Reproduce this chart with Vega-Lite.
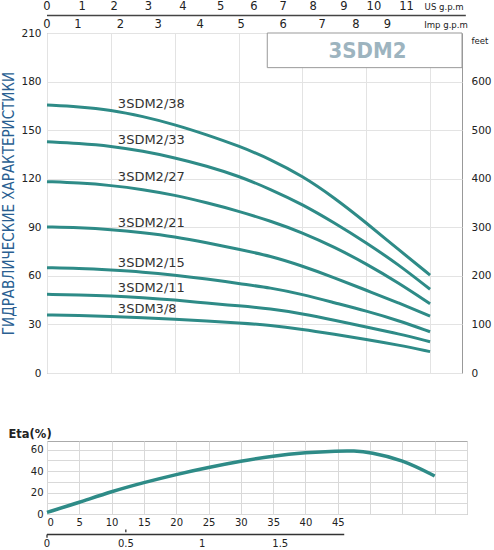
{
  "$schema": "https://vega.github.io/schema/vega-lite/v6.json",
  "padding": {"left": 1, "top": 0, "right": 0, "bottom": 0},
  "background": "white",
  "spacing": 48,
  "config": {
    "font": "DejaVu Sans",
    "view": {"stroke": "#999"},
    "axis": {"labelFont": "DejaVu Sans", "labelColor": "#222", "gridColor": "#e3e3e3", "titleFont": "DejaVu Sans", "labelOverlap": false}
  },
  "datasets": {
    "hq": [
      {"model": "3SDM2/38", "q": 0, "h": 165.5}, {"model": "3SDM2/38", "q": 5, "h": 164.5}, {"model": "3SDM2/38", "q": 10, "h": 162.5}, {"model": "3SDM2/38", "q": 15, "h": 158.5}, {"model": "3SDM2/38", "q": 20, "h": 153.5}, {"model": "3SDM2/38", "q": 25, "h": 147.2}, {"model": "3SDM2/38", "q": 30, "h": 140.3}, {"model": "3SDM2/38", "q": 35, "h": 132}, {"model": "3SDM2/38", "q": 40, "h": 121.7}, {"model": "3SDM2/38", "q": 45, "h": 108.3}, {"model": "3SDM2/38", "q": 50, "h": 92.8}, {"model": "3SDM2/38", "q": 55, "h": 76.4}, {"model": "3SDM2/38", "q": 60, "h": 60.5},
      {"model": "3SDM2/33", "q": 0, "h": 142.9}, {"model": "3SDM2/33", "q": 5, "h": 141.9}, {"model": "3SDM2/33", "q": 10, "h": 140.2}, {"model": "3SDM2/33", "q": 15, "h": 137.1}, {"model": "3SDM2/33", "q": 20, "h": 133}, {"model": "3SDM2/33", "q": 25, "h": 127.9}, {"model": "3SDM2/33", "q": 30, "h": 121.7}, {"model": "3SDM2/33", "q": 35, "h": 113.5}, {"model": "3SDM2/33", "q": 40, "h": 104.2}, {"model": "3SDM2/33", "q": 45, "h": 92.8}, {"model": "3SDM2/33", "q": 50, "h": 80.5}, {"model": "3SDM2/33", "q": 55, "h": 67.1}, {"model": "3SDM2/33", "q": 60, "h": 51.7},
      {"model": "3SDM2/27", "q": 0, "h": 118.2}, {"model": "3SDM2/27", "q": 5, "h": 117.4}, {"model": "3SDM2/27", "q": 10, "h": 115.9}, {"model": "3SDM2/27", "q": 15, "h": 113.4}, {"model": "3SDM2/27", "q": 20, "h": 109.9}, {"model": "3SDM2/27", "q": 25, "h": 105.2}, {"model": "3SDM2/27", "q": 30, "h": 100}, {"model": "3SDM2/27", "q": 35, "h": 93.9}, {"model": "3SDM2/27", "q": 40, "h": 86.7}, {"model": "3SDM2/27", "q": 45, "h": 77.8}, {"model": "3SDM2/27", "q": 50, "h": 67.5}, {"model": "3SDM2/27", "q": 55, "h": 55.8}, {"model": "3SDM2/27", "q": 60, "h": 42.8},
      {"model": "3SDM2/21", "q": 0, "h": 90.2}, {"model": "3SDM2/21", "q": 5, "h": 89.8}, {"model": "3SDM2/21", "q": 10, "h": 88.7}, {"model": "3SDM2/21", "q": 15, "h": 86.7}, {"model": "3SDM2/21", "q": 20, "h": 84.2}, {"model": "3SDM2/21", "q": 25, "h": 80.5}, {"model": "3SDM2/21", "q": 30, "h": 76.4}, {"model": "3SDM2/21", "q": 35, "h": 72.3}, {"model": "3SDM2/21", "q": 40, "h": 66.1}, {"model": "3SDM2/21", "q": 45, "h": 58.9}, {"model": "3SDM2/21", "q": 50, "h": 51.1}, {"model": "3SDM2/21", "q": 55, "h": 43.4}, {"model": "3SDM2/21", "q": 60, "h": 35.2},
      {"model": "3SDM2/15", "q": 0, "h": 65}, {"model": "3SDM2/15", "q": 5, "h": 64.6}, {"model": "3SDM2/15", "q": 10, "h": 63.6}, {"model": "3SDM2/15", "q": 15, "h": 62.4}, {"model": "3SDM2/15", "q": 20, "h": 60.5}, {"model": "3SDM2/15", "q": 25, "h": 58.2}, {"model": "3SDM2/15", "q": 30, "h": 55.2}, {"model": "3SDM2/15", "q": 35, "h": 52.7}, {"model": "3SDM2/15", "q": 40, "h": 48.6}, {"model": "3SDM2/15", "q": 45, "h": 43.4}, {"model": "3SDM2/15", "q": 50, "h": 38.3}, {"model": "3SDM2/15", "q": 55, "h": 32.5}, {"model": "3SDM2/15", "q": 60, "h": 25.5},
      {"model": "3SDM2/11", "q": 0, "h": 48.6}, {"model": "3SDM2/11", "q": 5, "h": 48.2}, {"model": "3SDM2/11", "q": 10, "h": 47.6}, {"model": "3SDM2/11", "q": 15, "h": 46.5}, {"model": "3SDM2/11", "q": 20, "h": 45.1}, {"model": "3SDM2/11", "q": 25, "h": 43.2}, {"model": "3SDM2/11", "q": 30, "h": 41.5}, {"model": "3SDM2/11", "q": 35, "h": 39.7}, {"model": "3SDM2/11", "q": 40, "h": 36.6}, {"model": "3SDM2/11", "q": 45, "h": 32.7}, {"model": "3SDM2/11", "q": 50, "h": 28.4}, {"model": "3SDM2/11", "q": 55, "h": 24.3}, {"model": "3SDM2/11", "q": 60, "h": 19.3},
      {"model": "3SDM3/8", "q": 0, "h": 35.8}, {"model": "3SDM3/8", "q": 5, "h": 35.6}, {"model": "3SDM3/8", "q": 10, "h": 35}, {"model": "3SDM3/8", "q": 15, "h": 34.2}, {"model": "3SDM3/8", "q": 20, "h": 33.2}, {"model": "3SDM3/8", "q": 25, "h": 32.1}, {"model": "3SDM3/8", "q": 30, "h": 30.9}, {"model": "3SDM3/8", "q": 35, "h": 29.5}, {"model": "3SDM3/8", "q": 40, "h": 27}, {"model": "3SDM3/8", "q": 45, "h": 23.9}, {"model": "3SDM3/8", "q": 50, "h": 20.8}, {"model": "3SDM3/8", "q": 55, "h": 17.3}, {"model": "3SDM3/8", "q": 60, "h": 13.2}
    ],
    "labels": [
      {"model": "3SDM2/38", "q": 11.1, "h": 166},
      {"model": "3SDM2/33", "q": 11.1, "h": 143.9},
      {"model": "3SDM2/27", "q": 11.1, "h": 121},
      {"model": "3SDM2/21", "q": 11.1, "h": 92.8},
      {"model": "3SDM2/15", "q": 11.1, "h": 68.1},
      {"model": "3SDM2/11", "q": 11.1, "h": 52.3},
      {"model": "3SDM3/8", "q": 11.1, "h": 39.3}
    ],
    "us": [
      {"q": 0, "lab": "0"}, {"q": 5.5, "lab": "1"}, {"q": 10.5, "lab": "2"}, {"q": 15.9, "lab": "3"}, {"q": 21.3, "lab": "4"}, {"q": 27.2, "lab": "5"}, {"q": 32.4, "lab": "6"}, {"q": 37, "lab": "7"}, {"q": 41.7, "lab": "8"}, {"q": 46.5, "lab": "9"}, {"q": 51.2, "lab": "10"}, {"q": 56.3, "lab": "11"}
    ],
    "imp": [
      {"q": 0, "lab": "0"}, {"q": 4.86, "lab": "1"}, {"q": 11.5, "lab": "2"}, {"q": 17.4, "lab": "3"}, {"q": 24, "lab": "4"}, {"q": 30.4, "lab": "5"}, {"q": 37, "lab": "6"}, {"q": 43.1, "lab": "7"}, {"q": 48.4, "lab": "8"}, {"q": 53.3, "lab": "9"}
    ],
    "eta": [
      {"q": 0, "e": 1.5}, {"q": 5, "e": 10.8}, {"q": 10, "e": 21}, {"q": 15, "e": 29.3}, {"q": 20, "e": 36.9}, {"q": 25, "e": 43.4}, {"q": 30, "e": 49.2}, {"q": 35, "e": 54.2}, {"q": 40, "e": 57.2}, {"q": 45, "e": 58.8}, {"q": 47.5, "e": 58.9}, {"q": 50, "e": 57.6}, {"q": 55, "e": 50.6}, {"q": 60, "e": 35.4}
    ],
    "m3h": [
      {"q": 0, "lab": "0"}, {"q": 12.2, "lab": "0.5"}, {"q": 24, "lab": "1"}, {"q": 36.1, "lab": "1.5"}
    ],
    "m3hticks": [
      {"q": 0, "a": -19.1, "b": -22.2}, {"q": 12.2, "a": -14.5, "b": -16.9}
    ]
  },
  "vconcat": [
    {
      "width": 415,
      "height": 340,
      "layer": [
        {
          "data": {"name": "hq"},
          "mark": {"type": "line", "interpolate": "basis", "strokeWidth": 3, "color": "#2e8b87"},
          "encoding": {
            "x": {"field": "q", "type": "quantitative", "scale": {"domain": [0, 65], "nice": false},
              "axis": {"values": [0, 5, 10, 15, 20, 25, 30, 35, 40, 45, 50, 55, 60, 65], "labels": false, "ticks": false, "domain": false, "grid": true, "title": null}},
            "y": {"field": "h", "type": "quantitative", "scale": {"domain": [0, 210], "nice": false},
              "axis": {"values": [0, 30, 60, 90, 120, 150, 180, 210], "grid": true, "ticks": false, "domain": false, "labelPadding": 6, "labelFontSize": 10.5, "labelOverlap": false,
                "title": "ГИДРАВЛИЧЕСКИЕ ХАРАКТЕРИСТИКИ", "titleFont": "DejaVu Sans Condensed", "titleFontSize": 15, "titleFontWeight": "normal", "titleColor": "#2a5f92", "titlePadding": 4}},
            "detail": {"field": "model"}
          }
        },
        {
          "data": {"name": "labels"},
          "mark": {"type": "text", "align": "left", "baseline": "middle", "fontSize": 13, "color": "#333"},
          "encoding": {
            "x": {"field": "q", "type": "quantitative"},
            "y": {"field": "h", "type": "quantitative",
              "axis": {"orient": "right", "values": [0, 30, 60, 90, 120, 150, 180], "labelExpr": "format(round(datum.value / 0.3), 'd')", "grid": false, "ticks": false, "domain": false, "labelPadding": 9, "labelFontSize": 10.5, "labelAlign": "left", "labelOverlap": false, "title": null}},
            "text": {"field": "model"}
          }
        },
        {
          "data": {"values": [{}]},
          "mark": {"type": "rect", "fill": "white", "stroke": "#999", "strokeWidth": 1},
          "encoding": {
            "x": {"datum": 34.5, "type": "quantitative"}, "x2": {"datum": 65},
            "y": {"datum": 210, "type": "quantitative", "axis": null}, "y2": {"datum": 188.6}
          }
        },
        {
          "data": {"values": [{}]},
          "mark": {"type": "text", "text": "3SDM2", "font": "DejaVu Sans Condensed", "fontWeight": "bold", "fontSize": 22, "color": "#9db4bf", "baseline": "middle"},
          "encoding": {
            "x": {"datum": 50.2, "type": "quantitative"},
            "y": {"datum": 199, "type": "quantitative", "axis": null}
          }
        },
        {
          "data": {"values": [{}]},
          "mark": {"type": "rule", "stroke": "#444", "strokeWidth": 1.5},
          "encoding": {
            "x": {"datum": 0, "type": "quantitative"}, "x2": {"datum": 65.6},
            "y": {"datum": 220.8, "type": "quantitative", "axis": null}
          }
        },
        {
          "data": {"name": "us"},
          "mark": {"type": "text", "fontSize": 11.5, "color": "#222", "baseline": "middle"},
          "encoding": {
            "x": {"field": "q", "type": "quantitative"},
            "y": {"datum": 226, "type": "quantitative", "axis": null},
            "text": {"field": "lab"}
          }
        },
        {
          "data": {"name": "imp"},
          "mark": {"type": "text", "fontSize": 11.5, "color": "#222", "baseline": "middle"},
          "encoding": {
            "x": {"field": "q", "type": "quantitative"},
            "y": {"datum": 215, "type": "quantitative", "axis": null},
            "text": {"field": "lab"}
          }
        },
        {
          "data": {"values": [{"t": "US g.p.m", "q": 62.2, "h": 226}, {"t": "Imp g.p.m", "q": 62.5, "h": 215}, {"t": "feet", "q": 67.8, "h": 205}]},
          "mark": {"type": "text", "fontSize": 9.5, "color": "#222", "baseline": "middle", "font": "DejaVu Sans Condensed"},
          "encoding": {
            "x": {"field": "q", "type": "quantitative"},
            "y": {"field": "h", "type": "quantitative", "axis": null},
            "text": {"field": "t"}
          }
        }
      ],
      "resolve": {"axis": {"y": "independent"}}
    },
    {
      "width": 420,
      "height": 73,
      "view": {"stroke": "#aaa"},
      "layer": [
        {
          "data": {"name": "eta"},
          "mark": {"type": "line", "interpolate": "basis", "strokeWidth": 3.5, "color": "#2e8b87"},
          "encoding": {
            "x": {"field": "q", "type": "quantitative", "scale": {"domain": [0, 65], "nice": false},
              "axis": {"values": [0, 5, 10, 15, 20, 25, 30, 35, 40, 45, 50, 55, 60, 65], "labelExpr": "datum.value > 45 ? '' : datum.label", "labelOverlap": false, "grid": true, "gridColor": "#d9d9d9", "ticks": false, "domain": false, "labelPadding": 3, "labelFontSize": 10, "title": null}},
            "y": {"field": "e", "type": "quantitative", "scale": {"domain": [0, 68], "nice": false},
              "axis": {"values": [0, 10, 20, 30, 40, 50, 60], "labelExpr": "datum.value % 20 == 0 ? datum.label : ''", "labelOverlap": false, "grid": true, "gridColor": "#d9d9d9", "ticks": false, "domain": false, "labelPadding": 4, "labelFontSize": 10,
                "title": "Eta(%)", "titleAngle": 0, "titleAlign": "left", "titleBaseline": "middle", "titleX": -39, "titleY": -7, "titleFontSize": 11.5, "titleFontWeight": "bold", "titleColor": "#222"}}
          }
        },
        {
          "data": {"values": [{}]},
          "mark": {"type": "rule", "stroke": "#333", "strokeWidth": 1.5},
          "encoding": {
            "x": {"datum": 0, "type": "quantitative", "scale": {"domain": [0, 65], "nice": false},
              "axis": {"values": [0, 5, 10, 15, 20, 25, 30, 35, 40, 45, 50, 55, 60, 65], "labelExpr": "datum.value > 45 ? '' : datum.label", "labelOverlap": false, "grid": true, "gridColor": "#d9d9d9", "ticks": false, "domain": false, "labelPadding": 3, "labelFontSize": 10, "title": null}},
            "x2": {"datum": 46},
            "y": {"datum": -19.1, "type": "quantitative", "scale": {"domain": [0, 68], "nice": false},
              "axis": {"values": [0, 10, 20, 30, 40, 50, 60], "labelExpr": "datum.value % 20 == 0 ? datum.label : ''", "labelOverlap": false, "grid": true, "gridColor": "#d9d9d9", "ticks": false, "domain": false, "labelPadding": 4, "labelFontSize": 10,
                "title": "Eta(%)", "titleAngle": 0, "titleAlign": "left", "titleBaseline": "middle", "titleX": -39, "titleY": -7, "titleFontSize": 11.5, "titleFontWeight": "bold", "titleColor": "#222"}}
          }
        },
        {
          "data": {"name": "m3hticks"},
          "mark": {"type": "rule", "stroke": "#333", "strokeWidth": 1.3},
          "encoding": {
            "x": {"field": "q", "type": "quantitative", "scale": {"domain": [0, 65], "nice": false},
              "axis": {"values": [0, 5, 10, 15, 20, 25, 30, 35, 40, 45, 50, 55, 60, 65], "labelExpr": "datum.value > 45 ? '' : datum.label", "labelOverlap": false, "grid": true, "gridColor": "#d9d9d9", "ticks": false, "domain": false, "labelPadding": 3, "labelFontSize": 10, "title": null}},
            "y": {"field": "a", "type": "quantitative", "scale": {"domain": [0, 68], "nice": false},
              "axis": {"values": [0, 10, 20, 30, 40, 50, 60], "labelExpr": "datum.value % 20 == 0 ? datum.label : ''", "labelOverlap": false, "grid": true, "gridColor": "#d9d9d9", "ticks": false, "domain": false, "labelPadding": 4, "labelFontSize": 10,
                "title": "Eta(%)", "titleAngle": 0, "titleAlign": "left", "titleBaseline": "middle", "titleX": -39, "titleY": -7, "titleFontSize": 11.5, "titleFontWeight": "bold", "titleColor": "#222"}},
            "y2": {"field": "b"}
          }
        },
        {
          "data": {"name": "m3h"},
          "mark": {"type": "text", "fontSize": 10, "color": "#222", "baseline": "middle"},
          "encoding": {
            "x": {"field": "q", "type": "quantitative", "scale": {"domain": [0, 65], "nice": false},
              "axis": {"values": [0, 5, 10, 15, 20, 25, 30, 35, 40, 45, 50, 55, 60, 65], "labelExpr": "datum.value > 45 ? '' : datum.label", "labelOverlap": false, "grid": true, "gridColor": "#d9d9d9", "ticks": false, "domain": false, "labelPadding": 3, "labelFontSize": 10, "title": null}},
            "y": {"datum": -27.5, "type": "quantitative", "scale": {"domain": [0, 68], "nice": false},
              "axis": {"values": [0, 10, 20, 30, 40, 50, 60], "labelExpr": "datum.value % 20 == 0 ? datum.label : ''", "labelOverlap": false, "grid": true, "gridColor": "#d9d9d9", "ticks": false, "domain": false, "labelPadding": 4, "labelFontSize": 10,
                "title": "Eta(%)", "titleAngle": 0, "titleAlign": "left", "titleBaseline": "middle", "titleX": -39, "titleY": -7, "titleFontSize": 11.5, "titleFontWeight": "bold", "titleColor": "#222"}},
            "text": {"field": "lab"}
          }
        }
      ]
    }
  ]
}
